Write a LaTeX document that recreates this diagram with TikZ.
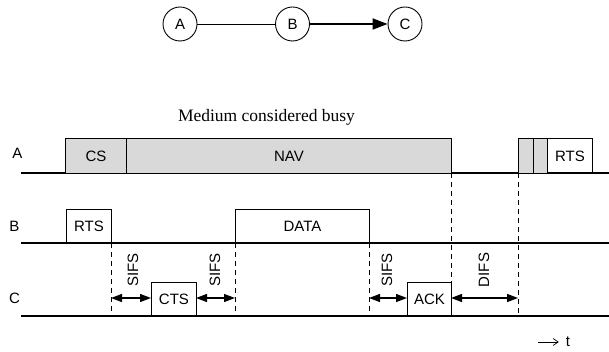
\documentclass[tikz,border=0pt]{standalone}
\usepackage{fontspec}
\setmainfont{Liberation Sans}
\newfontfamily\seriffont{Liberation Serif}
\usetikzlibrary{arrows.meta}
\definecolor{boxgray}{RGB}{217,217,217}
\begin{document}
\begin{tikzpicture}[x=1pt,y=-1pt,
  lbl/.style={font=\fontsize{15}{17}\selectfont},
  box/.style={draw, line width=0.9pt, inner sep=0pt, anchor=north west, lbl},
  graybox/.style={box, fill=boxgray},
  base/.style={line width=1.3pt},
  guide/.style={dash pattern=on 5pt off 4pt, line width=0.9pt},
  span/.style={{Triangle[length=11pt,width=8pt]}-{Triangle[length=11pt,width=8pt]}, line width=1.3pt},
  station/.style={circle, draw, line width=0.9pt, minimum size=34pt, inner sep=0pt, lbl}]
\useasboundingbox (0,0) rectangle (609,352);

% top graph
\node[station] (na) at (180,24) {A};
\node[station] (nb) at (292.5,24) {B};
\node[station] (nc) at (405,24) {C};
\draw[line width=0.9pt] (na) -- (nb);
\draw[line width=1.9pt, -{Triangle[length=15pt,width=11pt]}] (nb) -- (nc);

% title
\node[font=\seriffont\fontsize{17.5}{20}\selectfont] (title) at (266.5,117) {Medium considered busy};

% row labels
\node[lbl] (la) at (17.5,153) {A};
\node[lbl] (lb) at (14.5,226) {B};
\node[lbl] (lc) at (14.5,298) {C};

% baselines
\coordinate (a0) at (21,173); \coordinate (a1) at (609,173);
\coordinate (b0) at (21,243); \coordinate (b1) at (609,243);
\coordinate (c0) at (21,316); \coordinate (c1) at (609,316);
\draw[base] (a0) -- (a1);
\draw[base] (b0) -- (b1);
\draw[base] (c0) -- (c1);

% row A boxes
\node[graybox, minimum width=61pt, minimum height=35pt] (cs) at (65,138) {CS};
\node[graybox, minimum width=325pt, minimum height=35pt] (nav) at (126,138) {NAV};
\node[graybox, minimum width=15pt, minimum height=35pt] (g1) at (518,138) {};
\node[graybox, minimum width=14pt, minimum height=35pt] (g2) at (533,138) {};
\node[box, minimum width=45pt, minimum height=35pt] (rtsa) at (547,138) {RTS};

% row B boxes
\node[box, minimum width=45pt, minimum height=34pt] (rtsb) at (66,209) {RTS};
\node[box, minimum width=134pt, minimum height=34pt] (data) at (235,209) {DATA};

% row C boxes
\node[box, minimum width=45pt, minimum height=34pt] (cts) at (151,282) {CTS};
\node[box, minimum width=44pt, minimum height=34pt] (ack) at (407,282) {ACK};

% dashed guides
\coordinate (d1t) at (111,243); \coordinate (d1b) at (111,316);
\coordinate (d2t) at (235,243); \coordinate (d2b) at (235,316);
\coordinate (d3t) at (369,243); \coordinate (d3b) at (369,316);
\coordinate (d4t) at (451,173); \coordinate (d4b) at (451,316);
\coordinate (d5t) at (518,173); \coordinate (d5b) at (518,316);
\draw[guide] (d1t) -- (d1b);
\draw[guide] (d2t) -- (d2b);
\draw[guide] (d3t) -- (d3b);
\draw[guide] (d4t) -- (d4b);
\draw[guide] (d5t) -- (d5b);

% interval arrows
\coordinate (s1a) at (111,298); \coordinate (s1b) at (151,298);
\coordinate (s2a) at (196,298); \coordinate (s2b) at (235,298);
\coordinate (s3a) at (369,298); \coordinate (s3b) at (407,298);
\coordinate (s4a) at (451,298); \coordinate (s4b) at (518,298);
\draw[span] (s1a) -- (s1b);
\draw[span] (s2a) -- (s2b);
\draw[span] (s3a) -- (s3b);
\draw[span] (s4a) -- (s4b);
\node[lbl, rotate=90] (sifs1) at (133,270) {SIFS};
\node[lbl, rotate=90] (sifs2) at (215,270) {SIFS};
\node[lbl, rotate=90] (sifs3) at (387,270) {SIFS};
\node[lbl, rotate=90] (difs) at (484,270) {DIFS};

% time arrow
\node[lbl, inner xsep=7pt] (t) at (568,342) {t};
\coordinate (tstart) at (538,342);
\draw[line width=0.7pt, -{Straight Barb[length=5pt,width=7pt]}] (tstart) -- (t.west);
\end{tikzpicture}
\end{document}
